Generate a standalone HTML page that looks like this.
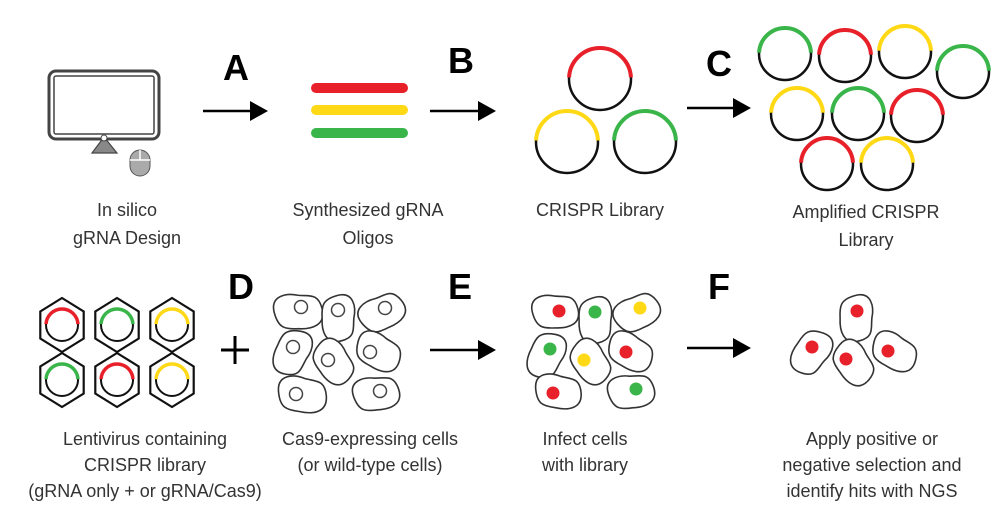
<!DOCTYPE html>
<html><head><meta charset="utf-8"><style>
body{margin:0;background:#fff}
svg{display:block}
.lbl{font-family:"Liberation Sans",sans-serif;font-size:18px;fill:#333;text-anchor:middle}
.let{font-family:"Liberation Sans",sans-serif;font-size:36px;font-weight:bold;fill:#000;text-anchor:middle}
</style></head><body>
<svg width="1000" height="512" viewBox="0 0 1000 512">
<defs>
<path id="cell" d="M-22,-4 C-22,-17 -6,-16 4,-12 C14,-9 23,-10 23,2 C23,15 8,15 -4,12 C-16,10 -22,8 -22,-4Z" fill="#fff" stroke="#333" stroke-width="1.6" vector-effect="non-scaling-stroke"/>
<marker id="ah" markerUnits="userSpaceOnUse" markerWidth="18" markerHeight="20" refX="1" refY="10" orient="auto"><path d="M0,0 L18,10 L0,20Z" fill="#000"/></marker>
</defs>

<g>
<rect x="49" y="71" width="110" height="68" rx="7" fill="#fff" stroke="#444" stroke-width="3"/>
<rect x="54" y="76" width="100" height="58" rx="2" fill="#fff" stroke="#444" stroke-width="1.5"/>
<polygon points="104,137 92,153 117,153" fill="#888" stroke="#444" stroke-width="1.2"/>
<circle cx="104" cy="138" r="3" fill="#fff" stroke="#444"/>
<rect x="130" y="150" width="20" height="26" rx="10" fill="#aaa" stroke="#555"/>
<line x1="140" y1="150" x2="140" y2="160" stroke="#fff" stroke-width="1.5"/>
<line x1="130" y1="160" x2="150" y2="160" stroke="#fff" stroke-width="1.5"/>
</g>

<g stroke-linecap="round" stroke-width="10">
<line x1="316" y1="88" x2="403" y2="88" stroke="#e8202a"/>
<line x1="316" y1="110" x2="403" y2="110" stroke="#ffd816"/>
<line x1="316" y1="133" x2="403" y2="133" stroke="#3ab54a"/>
</g>

<g stroke="#000" stroke-width="2.5">
<line x1="203" y1="111" x2="251" y2="111" marker-end="url(#ah)"/>
<line x1="430" y1="111" x2="479" y2="111" marker-end="url(#ah)"/>
<line x1="687" y1="108" x2="734" y2="108" marker-end="url(#ah)"/>
<line x1="430" y1="350" x2="479" y2="350" marker-end="url(#ah)"/>
<line x1="687" y1="348" x2="734" y2="348" marker-end="url(#ah)"/>
</g>
<g stroke="#000" stroke-width="3">
<line x1="221" y1="350" x2="249" y2="350"/><line x1="235" y1="336" x2="235" y2="364"/>
</g>

<text class="let" x="236" y="80">A</text>
<text class="let" x="461" y="73">B</text>
<text class="let" x="719" y="76">C</text>
<text class="let" x="241" y="299">D</text>
<text class="let" x="460" y="299">E</text>
<text class="let" x="719" y="299">F</text>

<g id="plasmids"></g>
<g id="hexes"></g>
<g id="cells"></g>

<g>
<text class="lbl" x="127" y="216">In silico</text>
<text class="lbl" x="127" y="244">gRNA Design</text>
<text class="lbl" x="368" y="216">Synthesized gRNA</text>
<text class="lbl" x="368" y="244">Oligos</text>
<text class="lbl" x="600" y="216">CRISPR Library</text>
<text class="lbl" x="866" y="218">Amplified CRISPR</text>
<text class="lbl" x="866" y="246">Library</text>
<text class="lbl" x="145" y="445">Lentivirus containing</text>
<text class="lbl" x="145" y="471">CRISPR library</text>
<text class="lbl" x="145" y="497">(gRNA only + or gRNA/Cas9)</text>
<text class="lbl" x="370" y="445">Cas9-expressing cells</text>
<text class="lbl" x="370" y="471">(or wild-type cells)</text>
<text class="lbl" x="585" y="445">Infect cells</text>
<text class="lbl" x="585" y="471">with library</text>
<text class="lbl" x="872" y="445">Apply positive or</text>
<text class="lbl" x="872" y="471">negative selection and</text>
<text class="lbl" x="872" y="497">identify hits with NGS</text>
</g>
</svg>
<script>
const NS="http://www.w3.org/2000/svg";
const COL={r:"#e8202a",y:"#ffd816",g:"#3ab54a"};
function mk(tag,attrs,parent){const e=document.createElementNS(NS,tag);for(const k in attrs)e.setAttribute(k,attrs[k]);parent.appendChild(e);return e;}
function plasmid(p,cx,cy,r,c,w){
  const g=mk("g",{},p);
  
  
  mk("circle",{cx:cx,cy:cy,r:r,fill:"none",stroke:"#111","stroke-width":w},g);
  const a=0.05;
  const x1=cx-r*Math.cos(a),y1=cy-r*Math.sin(a),x2=cx+r*Math.cos(a);
  mk("path",{d:`M${x1},${y1} A${r},${r} 0 0 1 ${x2},${y1}`,fill:"none",stroke:COL[c],"stroke-width":w+1.5},g);
}
const plasmidList=[[600,79,31,"r"],[567,142,31,"y"],[645,142,31,"g"],
 [785,54,26,"g"],[845,56,26,"r"],[905,52,26,"y"],[963,72,26,"g"],
 [797,114,26,"y"],[858,114,26,"g"],[917,116,26,"r"],[827,164,26,"r"],[887,164,26,"y"]];
const pg=document.getElementById("plasmids");
plasmidList.forEach(p=>plasmid(pg,p[0],p[1],p[2],p[3],2.5));
const hg=document.getElementById("hexes");
const hexList=[[62,325,"r"],[117,325,"g"],[172,325,"y"],[62,380,"g"],[117,380,"r"],[172,380,"y"]];
hexList.forEach(h=>{
  const pts=[];for(let i=0;i<6;i++){const a=Math.PI/180*(60*i-90);pts.push((h[0]+25*Math.cos(a)).toFixed(1)+","+(h[1]+27*Math.sin(a)).toFixed(1));}
  const hx=mk("polygon",{points:pts.join(" "),fill:"#fff",stroke:"#111","stroke-width":2.2},hg);
  
  
  plasmid(hg,h[0],h[1],16,h[2],2);
});
const cg=document.getElementById("cells");
const cellList=[[298,312,-15,1,301,307,"o"],[338,318,75,0.95,338,310,"o"],[382,313,-40,0.95,385,308,"o"],
 [292,352,100,0.95,293,347,"o"],[333,362,40,0.95,328,360,"o"],[378,352,15,0.95,370,352,"o"],
 [302,395,-5,1,296,394,"o"],[376,394,-20,0.95,380,391,"o"],
 [555,312,-15,0.95,559,311,"r"],[595,320,75,0.95,595,312,"g"],[637,313,-40,0.95,640,308,"y"],
 [546,355,100,0.95,550,349,"g"],[590,362,40,0.95,584,360,"y"],[630,352,15,0.95,626,352,"r"],
 [558,392,-5,0.95,553,393,"r"],[631,392,-20,0.95,636,389,"g"],
 [856,318,75,0.95,857,311,"r"],[811,352,110,0.95,812,347,"r"],[853,363,40,0.95,846,359,"r"],[894,352,15,0.95,888,351,"r"]];
cellList.forEach(c=>{
  const s=c[3];
  const u=mk("use",{href:"#cell",transform:`translate(${c[0]},${c[1]}) rotate(${c[2]}) scale(${s*1.05},${s*1.35})`},cg);
  
  
  let n;
  if(c[6]==="o") n=mk("circle",{cx:c[4],cy:c[5],r:6.5,fill:"#fff",stroke:"#444","stroke-width":1.5},cg);
  else n=mk("circle",{cx:c[4],cy:c[5],r:6.5,fill:COL[c[6]]},cg);
  
  
});
</script>
</body></html>
